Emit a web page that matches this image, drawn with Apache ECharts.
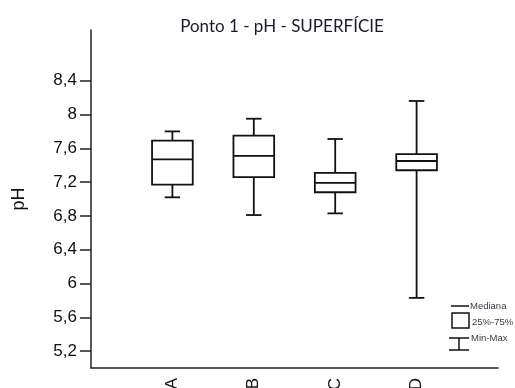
<!DOCTYPE html>
<html>
<head>
<meta charset="utf-8">
<script src="https://cdn.jsdelivr.net/npm/echarts@6/dist/echarts.min.js"></script>
<style>html,body{margin:0;padding:0;background:#fff}#c{width:515px;height:388px}</style>
</head>
<body>
<div id="c"></div>
<script>
const categories = ['A', 'B', 'C', 'D'];
const minVals    = [7.02, 6.81, 6.83, 5.83];
const q1Vals     = [7.17, 7.26, 7.08, 7.34];
const medianVals = [7.47, 7.51, 7.19, 7.45];
const q3Vals     = [7.69, 7.75, 7.31, 7.53];
const maxVals    = [7.80, 7.95, 7.71, 8.16];
const yTicks = [5.2, 5.6, 6.0, 6.4, 6.8, 7.2, 7.6, 8.0, 8.4];
const titleText = 'Ponto 1 - pH - SUPERFÍCIE';
const legendLabels = ['Mediana', '25%-75%', 'Min-Max'];

const xData = [''].concat(categories, ['']);
const seriesData = categories.map((c, i) => [i + 1, minVals[i], q1Vals[i], medianVals[i], q3Vals[i], maxVals[i]]);

const fmt = v => String(Math.round(v * 10) / 10).replace('.', ',');
const chart = echarts.init(document.getElementById('c'));
const stroke = { stroke: '#111', lineWidth: 1.8, fill: 'none' };
const legText = { fontFamily: 'Liberation Sans', fontSize: 9.5, fill: '#3a3a4a', textVerticalAlign: 'middle' };

chart.setOption({
  animation: false,
  backgroundColor: '#fff',
  title: {
    text: titleText, left: 277, top: 13, textAlign: 'center',
    textStyle: { fontFamily: 'Lato', fontSize: 17, fontWeight: 'normal', color: '#1a1a2e' }
  },
  grid: { left: 91, right: 17, top: 30, bottom: 20, containLabel: false, outerBoundsMode: 'none' },
  xAxis: {
    type: 'category', data: xData, boundaryGap: false,
    axisLine: { lineStyle: { color: '#222', width: 1.5 } },
    axisTick: { show: false },
    axisLabel: { rotate: 90, interval: 0, margin: 10, fontFamily: 'Liberation Sans', fontSize: 17, color: '#111' },
    splitLine: { show: false }
  },
  yAxis: {
    type: 'value', min: 5.0, max: 9.0,
    name: 'pH', nameLocation: 'middle', nameGap: 63, nameRotate: 90,
    nameTextStyle: { fontFamily: 'Liberation Sans', fontSize: 18, color: '#111' },
    axisLine: { show: true, lineStyle: { color: '#222', width: 1.5 } },
    axisTick: { show: true, customValues: yTicks, length: 11, lineStyle: { color: '#222', width: 1.5 } },
    axisLabel: { customValues: yTicks, formatter: fmt, margin: 14, fontFamily: 'Liberation Sans', fontSize: 17, color: '#111' },
    splitLine: { show: false }
  },
  series: [{
    type: 'custom',
    data: seriesData,
    renderItem: function (params, api) {
      const idx = api.value(0);
      const band = api.size([1, 0])[0];
      const bw = band * 0.5, cw = band * 0.19;
      const pMin = api.coord([idx, api.value(1)]);
      const pQ1 = api.coord([idx, api.value(2)]);
      const pMed = api.coord([idx, api.value(3)]);
      const pQ3 = api.coord([idx, api.value(4)]);
      const pMax = api.coord([idx, api.value(5)]);
      const x = pMed[0];
      return {
        type: 'group',
        children: [
          { type: 'line', shape: { x1: x, y1: pMax[1], x2: x, y2: pQ3[1] }, style: stroke },
          { type: 'line', shape: { x1: x, y1: pQ1[1], x2: x, y2: pMin[1] }, style: stroke },
          { type: 'line', shape: { x1: x - cw / 2, y1: pMax[1], x2: x + cw / 2, y2: pMax[1] }, style: stroke },
          { type: 'line', shape: { x1: x - cw / 2, y1: pMin[1], x2: x + cw / 2, y2: pMin[1] }, style: stroke },
          { type: 'rect', shape: { x: x - bw / 2, y: pQ3[1], width: bw, height: pQ1[1] - pQ3[1] }, style: { stroke: '#111', lineWidth: 1.8, fill: '#fff' } },
          { type: 'line', shape: { x1: x - bw / 2, y1: pMed[1], x2: x + bw / 2, y2: pMed[1] }, style: stroke }
        ]
      };
    }
  }],
  graphic: [
    { type: 'line', shape: { x1: 451, y1: 306, x2: 469, y2: 306 }, style: { stroke: '#111', lineWidth: 1.5 } },
    { type: 'text', x: 470, y: 306, style: Object.assign({ text: legendLabels[0] }, legText) },
    { type: 'rect', shape: { x: 452, y: 313, width: 17, height: 15 }, style: { stroke: '#111', lineWidth: 1.5, fill: '#fff' } },
    { type: 'text', x: 472, y: 322, style: Object.assign({ text: legendLabels[1] }, legText) },
    { type: 'line', shape: { x1: 449, y1: 338, x2: 469, y2: 338 }, style: { stroke: '#111', lineWidth: 1.5 } },
    { type: 'line', shape: { x1: 459, y1: 338, x2: 459, y2: 350 }, style: { stroke: '#111', lineWidth: 1.5 } },
    { type: 'line', shape: { x1: 449, y1: 350, x2: 469, y2: 350 }, style: { stroke: '#111', lineWidth: 1.5 } },
    { type: 'text', x: 471, y: 338, style: Object.assign({ text: legendLabels[2] }, legText) }
  ]
});
</script>
</body>
</html>
